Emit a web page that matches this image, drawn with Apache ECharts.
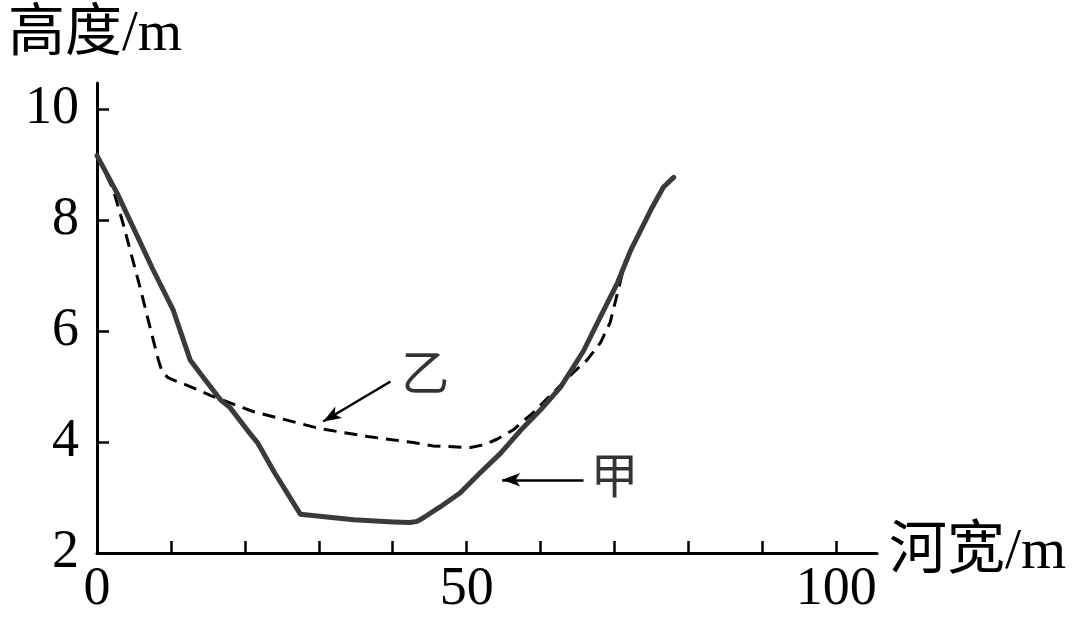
<!DOCTYPE html>
<html>
<head>
<meta charset="utf-8">
<script src="https://cdn.jsdelivr.net/npm/echarts@6/dist/echarts.min.js"></script>
<style>
html,body{margin:0;padding:0;background:#fff;}
#chart{width:1080px;height:621px;}
</style>
</head>
<body>
<div id="chart"></div>
<script>
// ---- data ----
const yTitle = '高度/m';
const xTitle = '河宽/m';
const xTickValues = [10, 20, 30, 40, 50, 60, 70, 80, 90, 100];
const xLabelValues = [0, 50, 100];
const yTickValues = [4, 6, 8, 10];
const yLabelValues = [2, 4, 6, 8, 10];

// 甲 (solid)
const jiaX = [0, 2.7, 7.6, 10.3, 12.6, 13.9, 16.7, 18.0, 20.3, 21.7, 24.0, 27.5, 34.7, 40.1, 42.3, 43.3, 44.2, 46.4, 49.1, 51.8, 54.6, 57.3, 60.0, 62.7, 65.8, 68.1, 70.4, 72.2, 74.9, 76.6, 78.0];
const jiaY = [9.16, 8.49, 7.10, 6.38, 5.48, 5.25, 4.76, 4.62, 4.22, 3.99, 3.45, 2.70, 2.60, 2.56, 2.55, 2.57, 2.64, 2.83, 3.08, 3.44, 3.80, 4.21, 4.58, 4.99, 5.64, 6.26, 6.87, 7.46, 8.18, 8.59, 8.77];
// 乙 (dashed)
const yiX = [0, 2.2, 3.5, 5.8, 7.6, 8.3, 8.8, 9.6, 10.3, 12.6, 15.7, 21.1, 30.2, 36.6, 42.8, 45.5, 50.5, 52.3, 54.1, 56.3, 59.0, 61.7, 64.4, 66.3, 68.1, 69.4, 70.5, 71.5];
const yiY = [9.16, 8.55, 7.95, 6.80, 5.84, 5.48, 5.27, 5.16, 5.12, 5.00, 4.82, 4.55, 4.24, 4.10, 3.99, 3.93, 3.90, 3.95, 4.05, 4.22, 4.53, 4.89, 5.25, 5.48, 5.79, 6.15, 6.74, 7.28];

// annotations: label position and arrow (from -> to)
const annoNames = ['乙', '甲'];
const annoLabelPos = [[44.4, 5.16], [70.0, 3.30]];
const annoArrowFrom = [[39.7, 5.09], [65.8, 3.32]];
const annoArrowTo = [[30.6, 4.37], [54.8, 3.32]];

// ---- chart ----
const serif = '"Liberation Serif", "Noto Sans CJK SC", serif';
const chart = echarts.init(document.getElementById('chart'));

const zip = (xs, ys) => xs.map((x, i) => [x, ys[i]]);

const option = {
  animation: false,
  backgroundColor: '#fff',
  title: {
    text: yTitle,
    left: 3,
    top: 2,
    textStyle: { fontFamily: serif, fontSize: 57, fontWeight: 'normal', color: '#000' }
  },
  grid: { left: 97, right: 203, top: 83, bottom: 68 },
  xAxis: {
    type: 'value',
    min: 0,
    max: 105.5,
    interval: 10,
    name: xTitle,
    nameLocation: 'end',
    nameGap: 12,
    nameTextStyle: { fontFamily: serif, fontSize: 58, color: '#000', align: 'left', verticalAlign: 'middle', padding: [0, 0, 0, 0] },
    splitLine: { show: false },
    axisLine: { show: true, onZero: false, lineStyle: { color: '#000', width: 3 } },
    axisTick: { show: true, inside: true, length: 12, lineStyle: { color: '#000', width: 2.5 }, customValues: xTickValues },
    axisLabel: { show: true, margin: 10, fontFamily: serif, fontSize: 54, color: '#000', customValues: xLabelValues }
  },
  yAxis: {
    type: 'value',
    min: 2,
    max: 10.47,
    interval: 2,
    splitLine: { show: false },
    axisLine: { show: true, onZero: false, lineStyle: { color: '#000', width: 3 } },
    axisTick: { show: true, inside: true, length: 12, lineStyle: { color: '#000', width: 2.5 }, customValues: yTickValues },
    axisLabel: { show: true, margin: 18, fontFamily: serif, fontSize: 54, color: '#000', customValues: yLabelValues }
  },
  series: [
    {
      name: '甲',
      type: 'line',
      data: zip(jiaX, jiaY),
      smooth: false,
      symbol: 'none',
      lineStyle: { color: '#3a3a3a', width: 5, cap: 'round', join: 'round' },
      z: 3
    },
    {
      name: '乙',
      type: 'line',
      data: zip(yiX, yiY),
      smooth: false,
      symbol: 'none',
      lineStyle: { color: '#000', width: 3, type: [13, 8] },
      z: 2,
      markLine: {
        silent: true,
        symbol: ['none', 'arrow'],
        symbolSize: [10, 18],
        label: { show: false },
        lineStyle: { color: '#000', width: 2.5, type: 'solid' },
        data: annoArrowFrom.map((f, i) => [{ coord: f }, { coord: annoArrowTo[i] }])
      }
    },
    {
      name: 'labels',
      type: 'scatter',
      symbolSize: 0,
      data: annoLabelPos.map((p, i) => ({ value: p, name: annoNames[i] })),
      label: {
        show: true,
        position: 'inside',
        formatter: p => p.name,
        fontFamily: serif,
        fontSize: 48,
        color: '#000'
      },
      z: 5
    }
  ]
};
chart.setOption(option);
</script>
</body>
</html>
